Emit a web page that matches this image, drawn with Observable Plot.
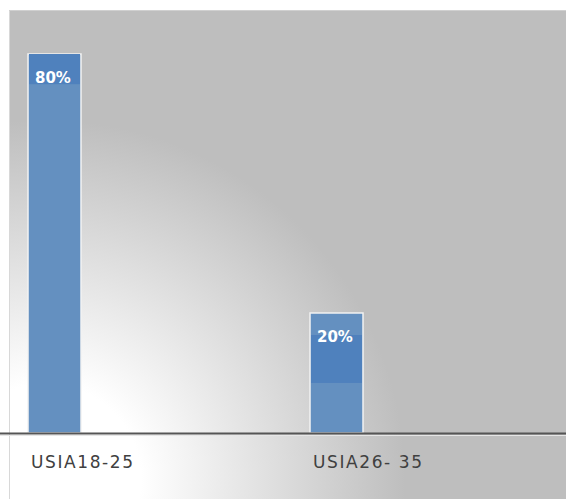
<!DOCTYPE html>
<html><head><meta charset="utf-8">
<script src="https://cdn.jsdelivr.net/npm/d3@7"></script>
<script src="https://cdn.jsdelivr.net/npm/@observablehq/plot@0.6"></script>
<style>body{margin:0;background:#fff;}svg{display:block;}</style>
</head><body><div id="chart"></div>
<script>
const categories = ["USIA18-25", "USIA26-35"];
const categoryLabels = ["USIA18-25", "USIA26- 35"];
const values = [80, 20];
const labels = ["80%", "20%"];

const data = categories.map((c, i) => ({cat: c, v: values[i], label: labels[i], catLabel: categoryLabels[i]}));
const yMin = -7.8;
// darker highlight band inside each bar (offsets below the top, in value units)
const bandTop = [0, 5.1];
const bandBottom = [7, 16.2];
const bands = data.map((d, i) => ({cat: d.cat, y1: d.v - bandBottom[i], y2: d.v - bandTop[i]}));

const plot = Plot.plot({
  width: 566, height: 499,
  margin: 0,
  style: {background: "#fff", fontFamily: "DejaVu Sans, sans-serif"},
  x: {domain: categories, range: [28, 364], paddingInner: 0.8127, paddingOuter: 0, align: 0, axis: null},
  y: {domain: [yMin, 80], range: [433, 54], axis: null},
  marks: [
    () => {
      const g = d3.create("svg:g");
      const defs = g.append("defs");
      const rg = defs.append("radialGradient").attr("id", "bgGrad")
        .attr("gradientUnits", "userSpaceOnUse").attr("cx", 45).attr("cy", 480).attr("r", 400);
      rg.append("stop").attr("offset", 0).attr("stop-color", "#ffffff");
      rg.append("stop").attr("offset", 0.24).attr("stop-color", "#ffffff");
      rg.append("stop").attr("offset", 0.9).attr("stop-color", "#bebebe");
      rg.append("stop").attr("offset", 1).attr("stop-color", "#bebebe");
      g.append("rect").attr("x", 9).attr("y", 10).attr("width", 557).attr("height", 489)
        .attr("fill", "url(#bgGrad)");
      g.append("line").attr("x1", 9.5).attr("x2", 9.5).attr("y1", 10).attr("y2", 499).attr("stroke", "#d8d8d8");
      g.append("line").attr("x1", 9).attr("x2", 566).attr("y1", 10.5).attr("y2", 10.5).attr("stroke", "#d0d0d0");
      return g.node();
    },
    Plot.barY(data, {x: "cat", y1: yMin, y2: "v", fill: "#6490c0", stroke: "#f2f2f2", strokeWidth: 1.5}),
    Plot.rectY(bands, {x: "cat", y1: "y1", y2: "y2", fill: "#4f81bd", insetLeft: 1, insetRight: 1}),
    Plot.ruleY([yMin], {stroke: "#555555", strokeWidth: 2}),
    Plot.ruleY([yMin], {stroke: "#e6e6e6", strokeWidth: 1, dy: 2}),
    Plot.text(data, {x: "cat", y: "v", text: "label", fill: "white", fontWeight: "bold", fontSize: 15,
      textAnchor: "start", dx: -20, dy: 24, fontFamily: "DejaVu Sans, sans-serif"}),
    Plot.text(data, {x: "cat", y: yMin, text: "catLabel", fill: "#404040", fontSize: 17,
      textAnchor: "start", dx: -24, dy: 28.6, fontFamily: "DejaVu Sans, sans-serif"})
  ]
});
d3.select(plot).selectAll("text")
  .filter(function() { return categoryLabels.includes(this.textContent); })
  .style("letter-spacing", "1.6px");
document.getElementById("chart").append(plot);
</script>
</body></html>
